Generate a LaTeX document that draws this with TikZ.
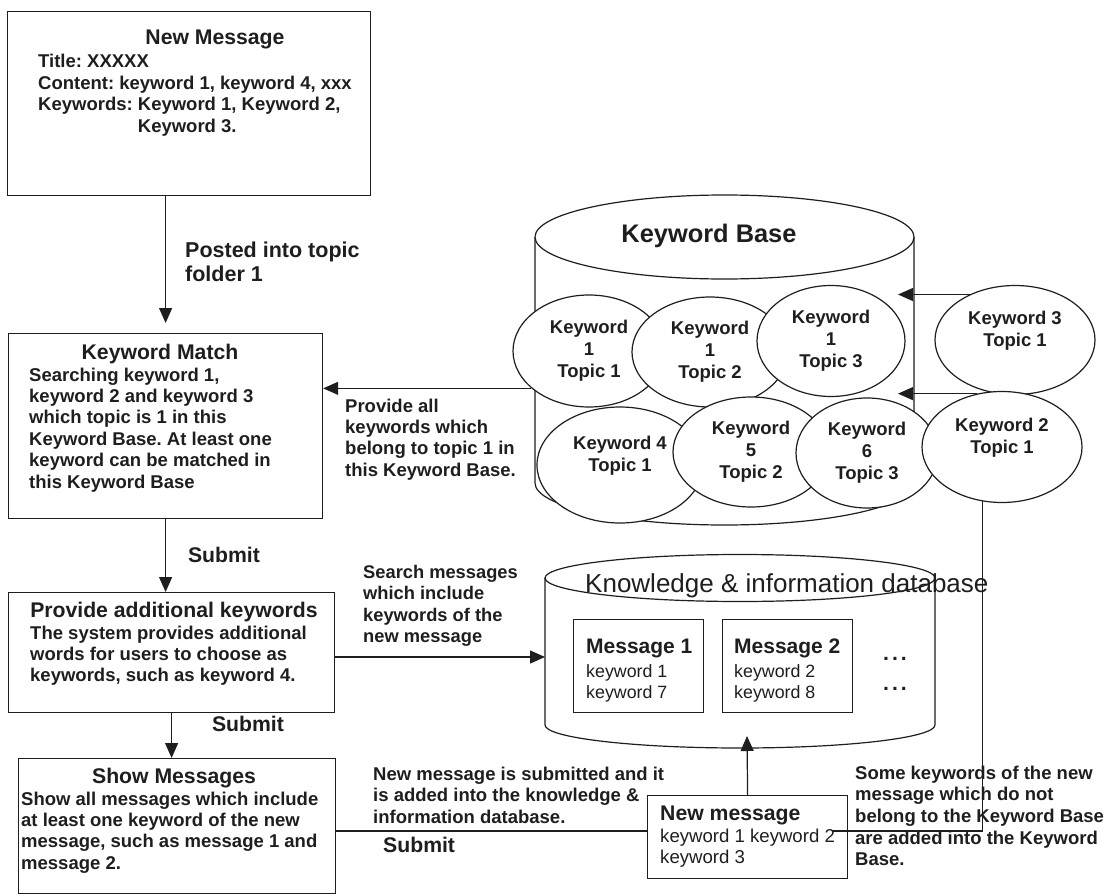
\documentclass[tikz,border=0pt]{standalone}
\usepackage{fontspec}
\setmainfont{Liberation Sans}
\usetikzlibrary{arrows.meta,shapes.geometric}
\definecolor{ink}{HTML}{1E1E1E}
\frenchspacing
% left-aligned block of lines whose baseline is the first line
\newcommand\stack[1]{\begin{tabular}[t]{@{}l@{}}#1\end{tabular}}
\begin{document}
\begin{tikzpicture}[x=1pt,y=-1pt,color=ink,
  box/.style={draw,line width=1.2pt,inner sep=0pt,anchor=north west},
  ttl/.style={font=\bfseries\fontsize{21.2}{24}\selectfont,inner sep=0pt,anchor=base},
  txt/.style={font=\bfseries\fontsize{18.5}{21.4}\selectfont,inner sep=0pt,anchor=base west},
  plain/.style={font=\fontsize{18.6}{21.2}\selectfont,inner sep=0pt,anchor=base west},
  kw/.style={ellipse,draw,fill=white,line width=1.2pt,inner sep=0pt,align=center,
    font=\bfseries\fontsize{18.5}{22}\selectfont},
  con/.style={line width=1.2pt},
  arr/.style={line width=1.2pt,-{Triangle[length=15pt,width=13pt]}}]
\useasboundingbox (0,0) rectangle (1110,896);

% ---------------- left column: process boxes ----------------
\node[box,minimum width=363,minimum height=184] (newmsg) at (7,11) {};
\node[ttl] (newmsgT) at (215,45) {New Message};
\node[txt] (newmsgB) at (38,68) {\stack{Title: XXXXX\\Content: keyword 1, keyword 4, xxx\\Keywords: Keyword 1, Keyword 2,\\\hphantom{Keywords: }Keyword 3.}};

\node[box,minimum width=314,minimum height=185] (km) at (8,333) {};
\node[ttl] (kmT) at (160,359) {Keyword Match};
\node[txt] (kmB) at (29,381) {\stack{Searching keyword 1,\\keyword 2 and keyword 3\\which topic is 1 in this\\Keyword Base. At least one\\keyword can be matched in\\this Keyword Base}};

\node[box,minimum width=326,minimum height=120] (prov) at (8,592) {};
\node[ttl] (provT) at (174,617) {Provide additional keywords};
\node[txt] (provB) at (30,639) {\stack{The system provides additional\\words for users to choose as\\keywords, such as keyword 4.}};

\node[box,minimum width=317,minimum height=135] (show) at (18,758) {};
\node[ttl] (showT) at (174,783) {Show Messages};
\node[txt] (showB) at (21,805) {\stack{Show all messages which include\\at least one keyword of the new\\message, such as message 1 and\\message 2.}};

% ---------------- Keyword Base cylinder ----------------
\draw[con,fill=white] (535,237) -- (535,483) arc[start angle=180,end angle=0,x radius=189.5,y radius=42] -- (914,237);
\draw[con,fill=white] (724.5,237) ellipse[x radius=189.5,y radius=42];
\node[ttl,font=\bfseries\fontsize{25.4}{28}\selectfont] (kbT) at (709,242) {Keyword Base};
\coordinate (kbIn) at (898,0);

\node[kw,minimum width=152,minimum height=112] (k11) at (589,351) {Keyword\\1\\Topic 1};
\node[kw,minimum width=156,minimum height=110] (k12) at (710,352) {Keyword\\1\\Topic 2};
\node[kw,minimum width=148,minimum height=111] (k13) at (831,341) {Keyword\\1\\Topic 3};
\node[kw,minimum width=166,minimum height=116] (k41) at (620,465) {Keyword 4\\Topic 1\\\mbox{}};
\node[kw,minimum width=156,minimum height=110] (k52) at (751,452) {Keyword\\5\\Topic 2};
\node[kw,minimum width=142,minimum height=110] (k63) at (867,453) {Keyword\\6\\Topic 3};
\node[kw,minimum width=160,minimum height=109] (k31) at (1015,340) {Keyword 3\\Topic 1\\\mbox{}};
\node[kw,minimum width=160,minimum height=111] (k21) at (1002,447) {Keyword 2\\Topic 1\\\mbox{}};

% ---------------- Knowledge & information database ----------------
\draw[con,fill=white] (545,578) -- (545,725) arc[start angle=180,end angle=0,x radius=195,y radius=23] -- (935,578);
\draw[con] (740,578) ellipse[x radius=195,y radius=23.5];
\node[anchor=base west,inner sep=0pt,font=\fontsize{26}{30}\selectfont] (kdbT) at (585,592) {Knowledge \& information database};
\coordinate (kdbW) at (545,657);
\coordinate (kdbIn) at (747,736);

\node[box,line width=1.1pt,minimum width=130,minimum height=93] (m1) at (573,619) {};
\node[ttl,anchor=base west,font=\bfseries\fontsize{21}{24}\selectfont] (m1T) at (586,653) {Message 1};
\node[plain,font=\fontsize{17.8}{21.4}\selectfont] (m1B) at (586,677) {\stack{keyword 1\\keyword 7}};
\node[box,line width=1.1pt,minimum width=130,minimum height=93] (m2) at (722,619) {};
\node[ttl,anchor=base west,font=\bfseries\fontsize{21}{24}\selectfont] (m2T) at (734,653) {Message 2};
\node[plain,font=\fontsize{17.8}{21.4}\selectfont] (m2B) at (734,677) {\stack{keyword 2\\keyword 8}};
\node[ttl] (dots1) at (895,660) {.\kern3pt.\kern3pt.};
\node[ttl] (dots2) at (895,690) {.\kern3pt.\kern3pt.};

% ---------------- new message box ----------------
\node[box,minimum width=200,minimum height=83] (nm) at (647,795) {};
\node[ttl,anchor=base west] (nmT) at (660,820) {New message};
\node[plain] (nmB) at (660,842) {\stack{keyword 1 keyword 2\\keyword 3}};
\coordinate (nmIn) at (833,831);

% ---------------- connector labels ----------------
\node[txt,font=\bfseries\fontsize{21.5}{24.5}\selectfont] (lPost) at (185,257) {\stack{Posted into topic\\folder 1}};
\node[txt] (lProv) at (345,412) {\stack{Provide all\\keywords which\\belong to topic 1 in\\this Keyword Base.}};
\node[ttl] (lSub1) at (224,562) {Submit};
\node[txt,font=\bfseries\fontsize{18.3}{21.6}\selectfont] (lSearch) at (363,578) {\stack{Search messages\\which include\\keywords of the\\new message}};
\node[ttl] (lSub2) at (248,731) {Submit};
\node[txt,font=\bfseries\fontsize{18.5}{21.8}\selectfont] (lAdd) at (373,780) {\stack{New message is submitted and it\\is added into the knowledge \&\\information database.}};
\node[ttl,anchor=base west] (lSub3) at (383,852) {Submit};
\node[txt,font=\bfseries\fontsize{18.5}{21.7}\selectfont] (lSome) at (855,779) {\stack{Some keywords of the new\\message which do not\\belong to the Keyword Base\\are added into the Keyword\\Base.}};

% ---------------- connectors ----------------
\draw[arr,shorten >=10pt] (km.north |- newmsg.south) -- (km.north);
\draw[arr] (k11.213) -- (k11.213 -| km.east);
\draw[arr] (km.south) -- (km.south |- prov.north);
\draw[arr] (prov.east |- kdbW) -- (kdbW);
\draw[arr] (prov.south) -- (prov.south |- show.north);
\draw[arr] (k31.135) -- (k31.135 -| kbIn);
\draw[arr] (k21.115) -- (k21.115 -| kbIn);
\draw[con] (k21.250) |- (nmIn);
\draw[con] (show.east |- nmIn) -- (nm.west |- nmIn);
\draw[arr] (nm.north) -- (kdbIn);
\end{tikzpicture}
\end{document}
